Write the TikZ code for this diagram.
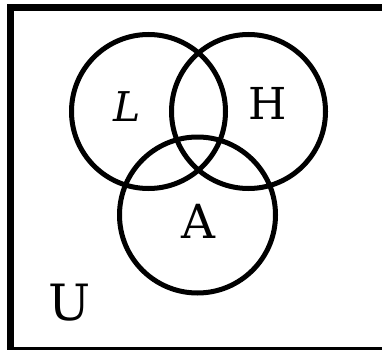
\documentclass[tikz,border=0pt]{standalone}
\usepackage{fontspec}
\setmainfont{DejaVu Serif}
\begin{document}
\begin{tikzpicture}[x=1pt,y=1pt,
    setcircle/.style={line width=5pt},
    setlabel/.style={font=\fontsize{44}{50}\selectfont}]
    % Frame (picture is 382 x 349, the universe box runs off right and bottom)
    \useasboundingbox (0,0) rectangle (382,349);
    \clip (0,0) rectangle (382,349);
    \draw[line width=7pt] (382,-1) -- (10.5,-1) -- (10.5,341) -- (382,341);
    % Sets
    \draw[setcircle] (148.5,237.5) circle (77);
    \draw[setcircle] (248.5,237.5) circle (77);
    \draw[setcircle] (197.5,134) circle (78);
    % Labels
    \node[setlabel,font=\fontsize{41}{48}\selectfont\itshape] (L) at (127,242) {L};
    \node[setlabel] (H) at (268,245.5) {H};
    \node[setlabel,font=\fontsize{47}{54}\selectfont] (A) at (198,128) {A};
    \node[setlabel,font=\fontsize{50}{56}\selectfont] (U) at (70,46) {U};
\end{tikzpicture}
\end{document}
